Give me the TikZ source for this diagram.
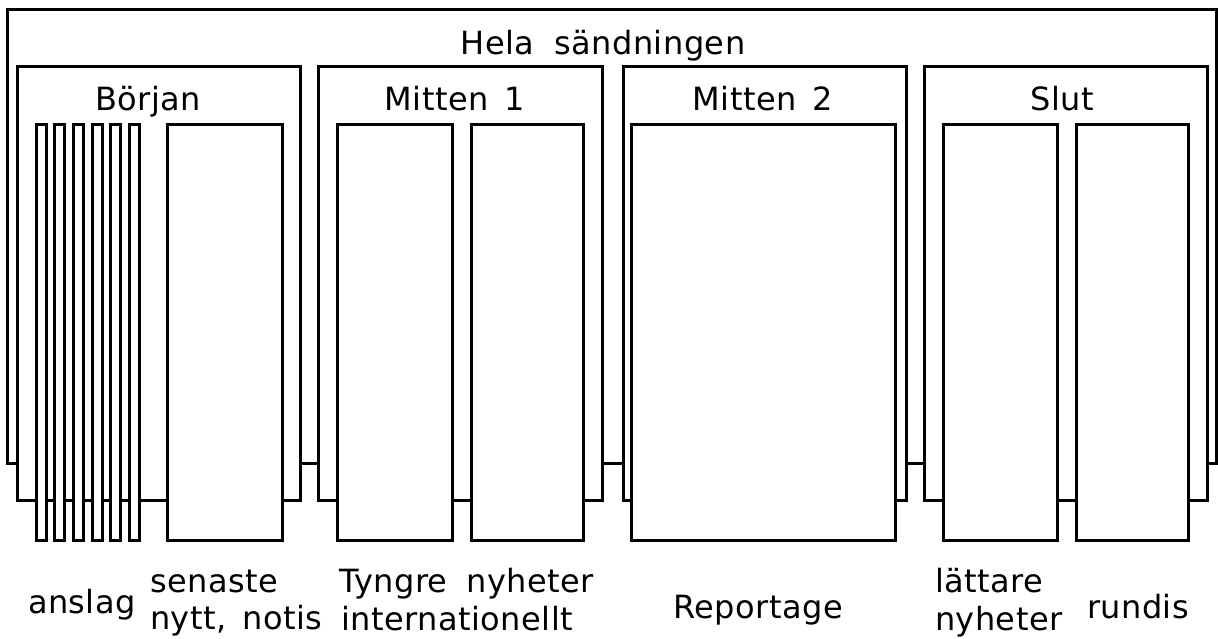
\documentclass[tikz,border=0pt]{standalone}
\usepackage{fontspec}
\setmainfont{DejaVu Sans}[LetterSpace=1.5,WordSpace=1.5]
\begin{document}
\begin{tikzpicture}[x=1pt,y=-1pt,
  box/.style={draw=black,fill=white,line width=3pt},
  lbl/.style={inner sep=0pt,outer sep=0pt,font=\fontsize{32}{38}\selectfont},
]
\useasboundingbox (0,0) rectangle (1218,638);
% outer
\draw[box] (7,9) rectangle (1216,463);
\node[lbl,anchor=base] (hela) at (603,54) {Hela\hspace{4pt} sändningen};
% sections
\draw[box] (17,66) rectangle (300,500);
\draw[box] (318,66) rectangle (602,500);
\draw[box] (623,66) rectangle (906,500);
\draw[box] (924,66) rectangle (1207,500);
\node[lbl,anchor=base] (borjan) at (148,110) {Början};
\node[lbl,anchor=base] (mitten1) at (455,110) {Mitten 1};
\node[lbl,anchor=base] (mitten2) at (763,110) {Mitten 2};
\node[lbl,anchor=base] (slut) at (1062,110) {Slut};
% inner boxes
\foreach \i in {0,...,5}{
  \draw[box] ({36+\i*18.7},124) rectangle ({46+\i*18.7},540);
}
\draw[box] (167,124) rectangle (282,540);
\draw[box] (337,124) rectangle (452,540);
\draw[box] (471,124) rectangle (583,540);
\draw[box] (631,124) rectangle (895,540);
\draw[box] (943,124) rectangle (1057,540);
\draw[box] (1076,124) rectangle (1188,540);
% bottom labels
\node[lbl,anchor=base west] (anslag) at (28,613) {anslag};
\node[lbl,anchor=base west] (sen1) at (150,592) {senaste};
\node[lbl,anchor=base west] (sen2) at (150,629) {nytt, notis};
\node[lbl,anchor=base west] (tyn1) at (339,592) {Tyngre\hspace{3pt} nyheter};
\node[lbl,anchor=base west] (tyn2) at (341,630) {internationellt};
\node[lbl,anchor=base] (rep) at (758,618) {Reportage};
\node[lbl,anchor=base west] (lat1) at (935,592) {lättare};
\node[lbl,anchor=base west] (lat2) at (935,630) {nyheter};
\node[lbl,anchor=base west] (rundis) at (1087,618) {rundis};
\end{tikzpicture}
\end{document}
